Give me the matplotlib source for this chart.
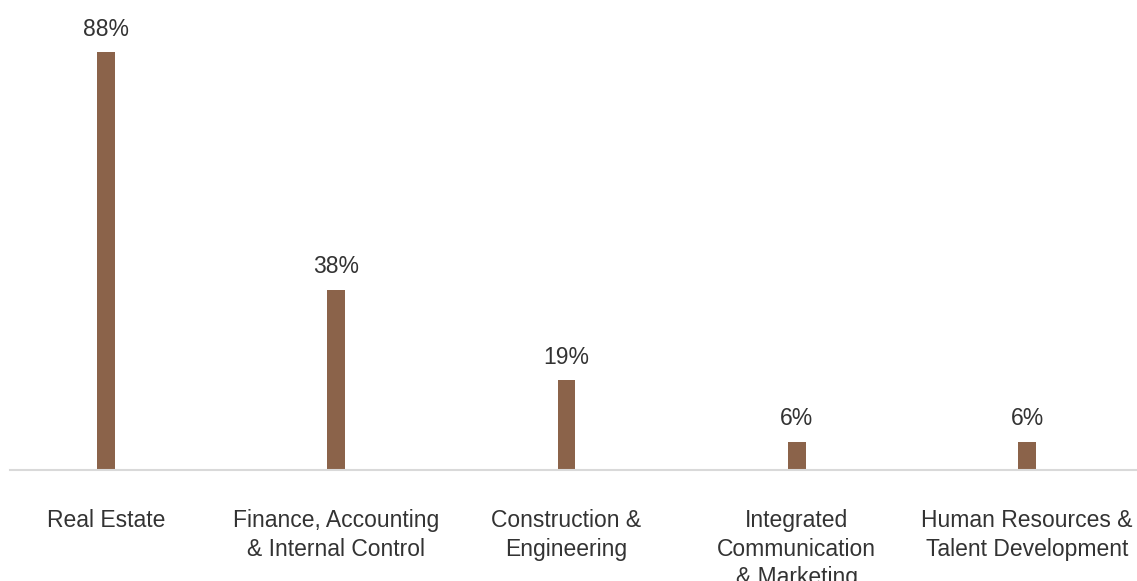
import matplotlib
matplotlib.use("Agg")
import matplotlib.pyplot as plt

# Data
categories = [
    "Real Estate",
    "Finance, Accounting\n& Internal Control",
    "Construction &\nEngineering",
    "Integrated\nCommunication\n& Marketing",
    "Human Resources &\nTalent Development",
]
values = [88, 38, 19, 6, 6]
value_labels = ["88%", "38%", "19%", "6%", "6%"]

BAR_COLOR = "#8B634A"
TEXT_COLOR = "#333333"

plt.rcParams["font.family"] = ["Liberation Sans", "DejaVu Sans"]

fig = plt.figure(figsize=(11.37, 5.81), dpi=100)
ax = fig.add_axes([10 / 1137, 111 / 581, 1127 / 1137, 451.25 / 581])

x = list(range(len(categories)))
ax.bar(x, values, width=0.078, color=BAR_COLOR, zorder=2)

for xi, v, lab in zip(x, values, value_labels):
    ax.annotate(lab, (xi, v), xytext=(0, 8), textcoords="offset points",
                ha="center", va="bottom", fontsize=16.5, color=TEXT_COLOR)

ax.set_xlim(-96 / 230.5, 4 + 110 / 230.5)
ax.set_ylim(0, 95)

ax.set_xticks(x)
ax.set_xticklabels(categories, fontsize=16.5, color=TEXT_COLOR, linespacing=1.32)
ax.tick_params(axis="x", length=0, pad=28)
ax.set_yticks([])

for side in ["top", "right", "left"]:
    ax.spines[side].set_visible(False)
ax.spines["bottom"].set_color("#d9d9d9")
ax.spines["bottom"].set_linewidth(1.5)

fig.savefig("out.png", dpi=100)
